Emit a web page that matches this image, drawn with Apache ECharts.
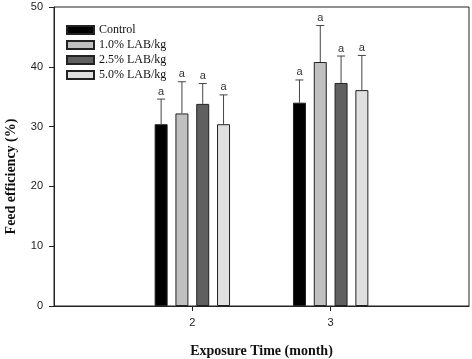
<!DOCTYPE html>
<html>
<head>
<meta charset="UTF-8">
<title>Feed efficiency</title>
<style>
body{margin:0;}
#picContainer{width:472px;height:359px;}
</style>
</head>
<body>
<div id="picContainer"></div>
<script src="https://cdn.jsdelivr.net/npm/echarts@6/dist/echarts.min.js"></script>
<script>
// x positions 1..4, only 2 and 3 carry data
var categories = ['1', '2', '3', '4'];
var dataIndex = [1, 2];
var treatments = ['Control', '1.0% LAB/kg', '2.5% LAB/kg', '5.0% LAB/kg'];
var control = [30.4, 34.0];
var lab10 = [32.2, 40.8];
var lab25 = [33.8, 37.3];
var lab50 = [30.4, 36.1];
var controlErr = [4.2, 3.8];
var lab10Err = [5.3, 6.1];
var lab25Err = [3.4, 4.5];
var lab50Err = [4.9, 5.8];
var letters = ['a', 'a'];
var yTicks = [0, 10, 20, 30, 40, 50];

main();
function main(){
    var means = [control, lab10, lab25, lab50];
    var errs = [controlErr, lab10Err, lab25Err, lab50Err];
    drawPic(means, errs);
}

function fillCats(vals){
    var out = categories.map(function(){ return '-'; });
    for (var i = 0; i < dataIndex.length; i++) {
        out[dataIndex[i]] = vals[i];
    }
    return out;
}

function drawPic(means, errs){
    var myChart = echarts.init(document.getElementById('picContainer'));
    var colors = ['#000000', '#c0c0c0', '#606060', '#e0e0e0'];
    var barW = 13, gapPx = 7.8;
    var serif = '"Liberation Serif", "Times New Roman", serif';
    var sans = '"Liberation Sans", Arial, sans-serif';
    var series = [];
    for (var k = 0; k < treatments.length; k++) {
        series.push({
            name: treatments[k],
            type: 'bar',
            barWidth: barW,
            barGap: (gapPx / barW * 100) + '%',
            itemStyle: {color: colors[k], borderColor: '#222', borderWidth: 1},
            data: fillCats(means[k])
        });
    }
    for (var k = 0; k < treatments.length; k++) {
        var d = [];
        for (var i = 0; i < dataIndex.length; i++) {
            d.push([dataIndex[i], means[k][i], errs[k][i], letters[i]]);
        }
        series.push({
            type: 'custom',
            silent: true,
            z: 5,
            renderItem: (function(off){
                return function(params, api){
                    var x = api.value(0), m = api.value(1), e = api.value(2);
                    var base = api.coord([x, m]);
                    var top = api.coord([x, m + e]);
                    var cx = base[0] + off;
                    var st = {stroke: '#444', lineWidth: 1};
                    return {type: 'group', children: [
                        {type: 'line', shape: {x1: cx, y1: base[1], x2: cx, y2: top[1]}, style: st},
                        {type: 'line', shape: {x1: cx - 4, y1: top[1], x2: cx + 4, y2: top[1]}, style: st},
                        {type: 'text', style: {text: letters[params.dataIndex], x: cx, y: top[1] - 2,
                            align: 'center', verticalAlign: 'bottom',
                            font: '11px ' + sans, fill: '#333'}}
                    ]};
                };
            })((k - 1.5) * (barW + gapPx)),
            data: d
        });
    }
    var option = {
        animation: false,
        grid: {left: 54, right: 3, top: 7, bottom: 53, show: true, borderColor: '#222', borderWidth: 1,
            containLabel: false, outerBoundsMode: 'none'},
        legend: {
            data: treatments,
            orient: 'vertical',
            left: 66,
            top: 24,
            padding: 0,
            itemWidth: 27,
            itemHeight: 8,
            itemGap: 3,
            icon: 'rect',
            textStyle: {fontFamily: serif, fontSize: 12, color: '#111'}
        },
        xAxis: {
            type: 'category',
            data: categories,
            boundaryGap: false,
            name: 'Exposure Time (month)',
            nameLocation: 'middle',
            nameGap: 38,
            nameTextStyle: {fontFamily: serif, fontSize: 14, fontWeight: 'bold', color: '#111'},
            axisLine: {lineStyle: {color: '#222'}},
            axisTick: {length: 5, lineStyle: {color: '#222'}, interval: function(idx){ return idx === 1 || idx === 2; }},
            axisLabel: {margin: 11, fontFamily: sans, fontSize: 11, color: '#222',
                interval: function(idx){ return idx === 1 || idx === 2; }},
            splitLine: {show: false}
        },
        yAxis: {
            type: 'value',
            min: yTicks[0],
            max: yTicks[yTicks.length - 1],
            interval: 10,
            name: 'Feed efficiency (%)',
            nameLocation: 'middle',
            nameGap: 36,
            nameTextStyle: {fontFamily: serif, fontSize: 14, fontWeight: 'bold', color: '#111', padding: [0, 40, 0, 0]},
            axisLine: {show: true, lineStyle: {color: '#222'}},
            axisTick: {show: true, length: 5, lineStyle: {color: '#222'}},
            axisLabel: {margin: 11, fontFamily: sans, fontSize: 11, color: '#222'},
            splitLine: {show: false}
        },
        series: series
    };
    myChart.setOption(option);
}
</script>
</body>
</html>
